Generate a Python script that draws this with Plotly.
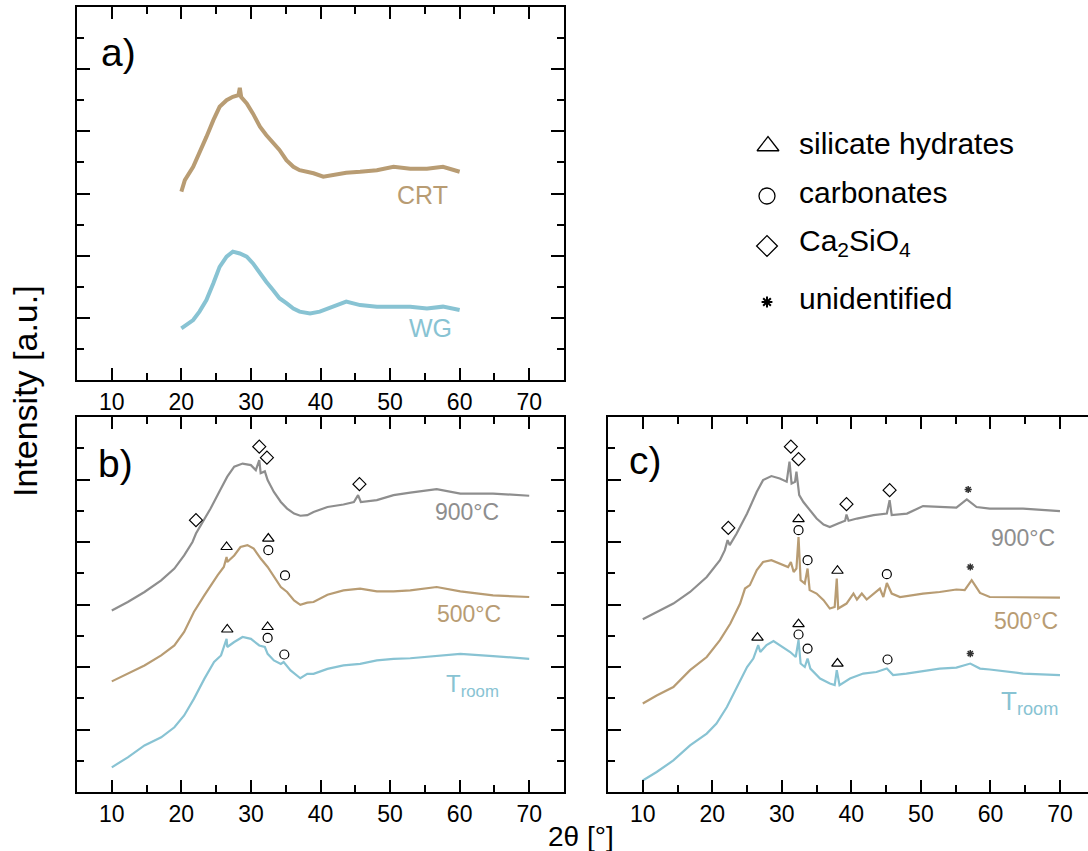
import plotly.graph_objects as go

# ---------------- data ----------------
# panel a
a_crt_x = [20.0, 20.5, 21.7, 22.6, 23.6, 24.6, 25.5, 26.5, 27.4, 28.2, 28.4, 28.6, 29.4, 30.3, 31.3, 32.2, 33.2,
           34.1, 35.1, 36.1, 37.0, 38.0, 39.0, 40.4, 41.8, 43.7, 45.7, 48.1, 50.5, 52.9, 55.3, 57.6, 60.0]
a_crt_y = [6.06, 6.43, 6.86, 7.29, 7.82, 8.36, 8.79, 9.00, 9.11, 9.16, 9.40, 9.10, 8.90, 8.57, 8.15, 7.88, 7.61,
           7.40, 7.07, 6.86, 6.75, 6.70, 6.65, 6.54, 6.59, 6.67, 6.70, 6.75, 6.86, 6.80, 6.80, 6.86, 6.70]
a_wg_x = [20.0, 20.7, 21.7, 22.6, 23.6, 24.6, 25.5, 26.5, 27.4, 28.4, 29.4, 30.3, 31.3, 32.2, 33.2, 34.1, 35.1,
          36.1, 37.0, 38.5, 39.9, 41.8, 43.7, 45.7, 48.1, 50.5, 52.9, 55.3, 57.6, 60.0]
a_wg_y = [1.66, 1.77, 1.93, 2.20, 2.57, 3.11, 3.64, 3.97, 4.13, 4.07, 3.97, 3.75, 3.43, 3.16, 2.89, 2.63, 2.47,
          2.30, 2.20, 2.14, 2.20, 2.36, 2.52, 2.41, 2.36, 2.36, 2.36, 2.30, 2.36, 2.25]

# panel b
b_900_x = [10.0, 12.3, 14.7, 17.1, 19.0, 20.4, 21.6, 22.1, 22.8, 24.2, 25.7, 26.6, 27.6, 28.8, 30.0, 30.7, 31.2,
           31.4, 32.0, 32.4, 33.3, 34.3, 35.2, 36.2, 37.1, 38.1, 39.0, 41.0, 43.3, 44.8, 45.4, 45.8, 48.1, 50.5,
           52.9, 56.7, 60.1, 64.8, 70.0]
b_900_y = [5.81, 6.08, 6.40, 6.77, 7.15, 7.57, 8.00, 8.27, 8.54, 9.07, 9.71, 10.09, 10.41, 10.51, 10.46, 10.30,
           10.62, 10.20, 10.26, 9.98, 9.60, 9.28, 9.07, 8.91, 8.84, 8.86, 8.96, 9.12, 9.20, 9.28, 9.50, 9.28, 9.34,
           9.50, 9.58, 9.69, 9.55, 9.55, 9.48]
b_500_x = [10.0, 12.3, 14.7, 17.1, 19.0, 20.4, 21.8, 23.3, 24.5, 25.2, 26.1, 26.5, 26.6, 27.6, 28.5, 29.5, 30.4,
           31.4, 32.4, 33.3, 34.3, 35.2, 36.2, 37.1, 38.1, 39.0, 41.0, 43.3, 45.7, 48.1, 50.5, 52.9, 56.7, 60.1,
           64.8, 70.0]
b_500_y = [3.54, 3.78, 4.05, 4.37, 4.69, 5.12, 5.76, 6.29, 6.72, 6.93, 7.20, 7.52, 7.36, 7.57, 7.84, 7.90, 7.79,
           7.47, 7.20, 6.88, 6.56, 6.40, 6.13, 5.99, 6.06, 6.08, 6.31, 6.45, 6.51, 6.42, 6.42, 6.45, 6.56, 6.42,
           6.29, 6.24]
b_rt_x = [10.0, 12.3, 14.7, 17.1, 19.0, 20.4, 21.8, 23.3, 24.7, 25.7, 26.5, 26.6, 27.6, 28.8, 30.0, 31.2, 32.0,
          32.4, 33.3, 34.3, 34.7, 35.7, 37.1, 38.1, 39.0, 41.0, 43.3, 45.7, 48.1, 50.5, 52.9, 55.3, 60.1, 64.8,
          70.0]
b_rt_y = [0.79, 1.11, 1.49, 1.75, 2.07, 2.45, 2.98, 3.62, 4.16, 4.37, 4.90, 4.64, 4.80, 4.96, 4.90, 4.69, 4.64,
          4.42, 4.21, 4.10, 4.16, 3.89, 3.64, 3.78, 3.78, 3.94, 4.05, 4.10, 4.21, 4.26, 4.28, 4.32, 4.42, 4.35,
          4.26]

# panel c
c_900_x = [10.0, 12.0, 14.4, 16.8, 19.2, 21.1, 21.8, 22.2, 22.5, 23.5, 25.0, 26.4, 27.3, 28.5, 29.7, 30.7, 31.1,
           31.4, 31.9, 32.1, 32.5, 33.1, 34.1, 35.0, 36.0, 36.9, 38.1, 39.1, 39.3, 39.6, 40.8, 43.2, 45.1, 45.5,
           45.8, 48.0, 50.3, 52.7, 55.1, 56.6, 58.0, 59.9, 64.7, 70.0]
c_900_y = [5.53, 5.76, 6.03, 6.40, 6.88, 7.42, 7.74, 8.06, 7.90, 8.27, 8.91, 9.61, 9.98, 10.11, 10.03, 9.93,
           10.57, 9.87, 9.93, 10.25, 9.50, 9.28, 9.02, 8.75, 8.56, 8.48, 8.59, 8.68, 8.88, 8.68, 8.75, 8.86, 8.91,
           9.34, 8.86, 8.91, 9.15, 9.12, 9.10, 9.36, 9.12, 9.07, 9.07, 8.99]
c_500_x = [10.0, 12.0, 14.4, 16.8, 19.2, 21.1, 22.6, 24.0, 24.7, 25.4, 26.4, 27.3, 28.5, 29.7, 30.9, 31.3, 31.7,
           32.1, 32.4, 32.7, 33.3, 33.7, 34.0, 35.0, 36.0, 36.9, 37.6, 37.9, 38.1, 39.3, 40.3, 40.8, 41.5, 42.2,
           43.6, 44.1, 44.6, 45.1, 45.8, 47.0, 50.3, 52.7, 55.1, 56.3, 57.3, 58.5, 59.9, 64.7, 70.0]
c_500_y = [2.83, 3.09, 3.36, 3.90, 4.32, 4.86, 5.39, 6.03, 6.51, 6.62, 7.10, 7.36, 7.42, 7.31, 7.20, 7.36, 7.04,
           7.15, 8.16, 6.78, 6.67, 7.15, 6.46, 6.35, 6.14, 5.87, 5.92, 6.83, 5.87, 6.03, 6.35, 6.16, 6.35, 6.16,
           6.40, 6.51, 6.24, 6.69, 6.35, 6.24, 6.35, 6.40, 6.48, 6.46, 6.78, 6.37, 6.24, 6.24, 6.22]
c_rt_x = [10.0, 12.0, 14.4, 16.8, 19.2, 20.6, 22.1, 23.5, 25.0, 25.9, 26.6, 26.9, 27.8, 28.8, 29.7, 31.2, 32.0,
          32.4, 32.7, 33.3, 33.7, 34.1, 35.5, 36.9, 37.6, 37.9, 38.3, 39.8, 41.7, 43.6, 45.1, 46.0, 47.9, 50.3,
          52.7, 55.1, 57.1, 58.5, 59.9, 64.7, 70.0]
c_rt_y = [0.37, 0.64, 1.01, 1.49, 1.87, 2.19, 2.72, 3.36, 4.00, 4.27, 4.70, 4.48, 4.70, 4.83, 4.70, 4.48, 4.32,
          4.86, 4.11, 4.00, 4.27, 3.95, 3.63, 3.47, 3.42, 3.90, 3.42, 3.63, 3.79, 3.84, 3.95, 3.74, 3.79, 3.87,
          3.95, 3.98, 4.11, 3.95, 3.92, 3.79, 3.74]

# phase markers
b_tri_x = [26.5, 32.5, 26.6, 32.4]
b_tri_y = [7.84, 8.11, 5.20, 5.28]
b_cir_x = [32.5, 34.9, 32.4, 34.8]
b_cir_y = [7.74, 6.93, 4.93, 4.40]
b_dia_x = [22.1, 31.2, 32.3, 45.6]
b_dia_y = [8.70, 11.05, 10.70, 9.85]

c_tri_x = [32.4, 38.0, 26.5, 32.4, 38.0]
c_tri_y = [8.73, 7.08, 4.94, 5.37, 4.11]
c_cir_x = [32.4, 33.7, 45.1, 32.4, 33.7, 45.2]
c_cir_y = [8.38, 7.42, 6.97, 5.04, 4.59, 4.24]
c_dia_x = [22.3, 31.3, 32.4, 39.3, 45.5]
c_dia_y = [8.45, 11.05, 10.65, 9.21, 9.66]
c_star_x = [56.8, 57.1, 57.1]
c_star_y = [9.68, 7.20, 4.43]

x_ticks = [10, 20, 30, 40, 50, 60, 70]
x_minor = [15, 25, 35, 45, 55, 65]
y_ticks = [2, 4, 6, 8, 10]
y_minor = [1, 3, 5, 7, 9, 11]

legend_labels = ["silicate hydrates", "carbonates", "Ca<sub>2</sub>SiO<sub>4</sub>", "unidentified"]

# ---------------- styling ----------------
W, H = 1088, 851
FONT = "Liberation Sans, Arial, sans-serif"
GRAY = "#8e8e8e"
TAN = "#b89c73"
BLUE = "#88c3d3"

fig = go.Figure()


def add_line(x, y, color, xa, ya, width=2.0):
    fig.add_trace(go.Scatter(x=x, y=y, mode="lines", line=dict(color=color, width=width),
                             xaxis=xa, yaxis=ya, showlegend=False, hoverinfo="skip"))


def add_sym(x, y, symbol, size, xa, ya, color="black", lw=1.2):
    fig.add_trace(go.Scatter(x=x, y=y, mode="markers",
                             marker=dict(symbol=symbol, size=size, color=color,
                                         line=dict(width=lw, color=color)),
                             xaxis=xa, yaxis=ya, showlegend=False, hoverinfo="skip"))


add_line(a_crt_x, a_crt_y, TAN, "x", "y", 4)
add_line(a_wg_x, a_wg_y, BLUE, "x", "y", 4)

add_line(b_900_x, b_900_y, GRAY, "x2", "y2", 2.2)
add_line(b_500_x, b_500_y, TAN, "x2", "y2", 2.2)
add_line(b_rt_x, b_rt_y, BLUE, "x2", "y2", 2.2)

add_line(c_900_x, c_900_y, GRAY, "x3", "y3", 2.2)
add_line(c_500_x, c_500_y, TAN, "x3", "y3", 2.2)
add_line(c_rt_x, c_rt_y, BLUE, "x3", "y3", 2.2)

add_sym(b_tri_x, b_tri_y, "triangle-up-open", 10, "x2", "y2")
add_sym(b_cir_x, b_cir_y, "circle-open", 9, "x2", "y2")
add_sym(b_dia_x, b_dia_y, "diamond-open", 10, "x2", "y2")

add_sym(c_tri_x, c_tri_y, "triangle-up-open", 10, "x3", "y3")
add_sym(c_cir_x, c_cir_y, "circle-open", 9, "x3", "y3")
add_sym(c_dia_x, c_dia_y, "diamond-open", 10, "x3", "y3")
add_sym(c_star_x, c_star_y, "asterisk-open", 6, "x3", "y3", color="#333333", lw=1.5)

# legend symbols on a pixel overlay axis
leg_px_x = [768, 767, 767, 767]
leg_px_y = [146, 196, 246, 302]
leg_sym = ["triangle-up-open", "circle-open", "diamond-open", "asterisk-open"]
leg_size = [19, 16, 16, 9]
for i in range(4):
    add_sym([leg_px_x[i]], [leg_px_y[i]], leg_sym[i], leg_size[i], "x4", "y4",
            lw=1.3 if i < 3 else 2)

for i, lab in enumerate(legend_labels):
    fig.add_annotation(x=797 / W, y=1 - (leg_px_y[i] - 3) / H, xref="paper", yref="paper",
                       text=lab, showarrow=False, xanchor="left", yanchor="middle",
                       font=dict(family=FONT, size=30, color="black"))


def xax(domain, anchor, rng):
    return dict(domain=domain, anchor=anchor, range=rng, showline=True, linecolor="black", linewidth=2,
                mirror="ticks", ticks="inside", ticklen=12, tickwidth=2, tickcolor="black",
                tickvals=x_ticks, tickfont=dict(family=FONT, size=23, color="black"),
                minor=dict(tickvals=x_minor, ticks="inside", ticklen=7, tickwidth=2, tickcolor="black"),
                showgrid=False, zeroline=False, fixedrange=True)


def yax(domain, anchor, mirror="ticks"):
    return dict(domain=domain, anchor=anchor, range=[0, 12], showline=True, linecolor="black", linewidth=2,
                mirror=mirror, ticks="inside", ticklen=13, tickwidth=2, tickcolor="black",
                tickvals=y_ticks, showticklabels=False,
                minor=dict(tickvals=y_minor, ticks="inside", ticklen=7, tickwidth=2, tickcolor="black"),
                showgrid=False, zeroline=False, fixedrange=True)


dom_ab_x = [77 / W, 564 / W]
dom_c_x = [608 / W, 1.0]
dom_a_y = [1 - 380 / H, 1 - 7 / H]
dom_bc_y = [1 - 792 / H, 1 - 417 / H]

fig.update_layout(
    width=W, height=H, autosize=False,
    margin=dict(l=0, r=0, t=0, b=0, pad=0),
    paper_bgcolor="white", plot_bgcolor="rgba(0,0,0,0)",
    font=dict(family=FONT, color="black"),
    xaxis=xax(dom_ab_x, "y", [5, 75]),
    yaxis=yax(dom_a_y, "x"),
    xaxis2=xax(dom_ab_x, "y2", [5, 75]),
    yaxis2=yax(dom_bc_y, "x2"),
    xaxis3=xax(dom_c_x, "y3", [5, 74.03]),
    yaxis3=yax(dom_bc_y, "x3", mirror=False),
    xaxis4=dict(domain=[0, 1], anchor="y4", range=[0, W], visible=False, fixedrange=True),
    yaxis4=dict(domain=[0, 1], anchor="x4", range=[H, 0], visible=False, fixedrange=True),
)

# panel letters
for txt, xr, yr, x, y in [("a)", "x", "y", 8.2, 10.55), ("b)", "x2", "y2", 7.7, 10.5), ("c)", "x3", "y3", 7.7, 10.6)]:
    fig.add_annotation(x=x, y=y, xref=xr, yref=yr, text=txt, showarrow=False, xanchor="left",
                       yanchor="middle", font=dict(family=FONT, size=39, color="black"))

# series labels
series_labels = [
    ("CRT", "x", "y", 54.7, 5.95, TAN, 25),
    ("WG", "x", "y", 55.8, 1.67, BLUE, 25),
    ("900°C", "x2", "y2", 61.1, 8.97, GRAY, 23),
    ("500°C", "x2", "y2", 61.4, 5.70, TAN, 23),
    ("T<sub>room</sub>", "x2", "y2", 61.8, 3.40, BLUE, 24),
    ("900°C", "x3", "y3", 64.7, 8.14, GRAY, 23),
    ("500°C", "x3", "y3", 65.1, 5.48, TAN, 23),
    ("T<sub>room</sub>", "x3", "y3", 65.6, 2.85, BLUE, 26),
]
for txt, xr, yr, x, y, col, fs in series_labels:
    fig.add_annotation(x=x, y=y, xref=xr, yref=yr, text=txt, showarrow=False, xanchor="center",
                       yanchor="middle", font=dict(family=FONT, size=fs, color=col))

# axis titles
fig.add_annotation(x=25 / W, y=1 - 391 / H, xref="paper", yref="paper", text="Intensity [a.u.]",
                   showarrow=False, textangle=-90, xanchor="center", yanchor="middle",
                   font=dict(family=FONT, size=34, color="black"))
fig.add_annotation(x=581 / W, y=1 - 836 / H, xref="paper", yref="paper", text="2θ [°]",
                   showarrow=False, xanchor="center", yanchor="middle",
                   font=dict(family=FONT, size=28, color="black"))

fig.write_html("out.html", config={"displayModeBar": False},
               post_script="document.body.style.margin='0px';document.body.style.overflow='hidden';")
